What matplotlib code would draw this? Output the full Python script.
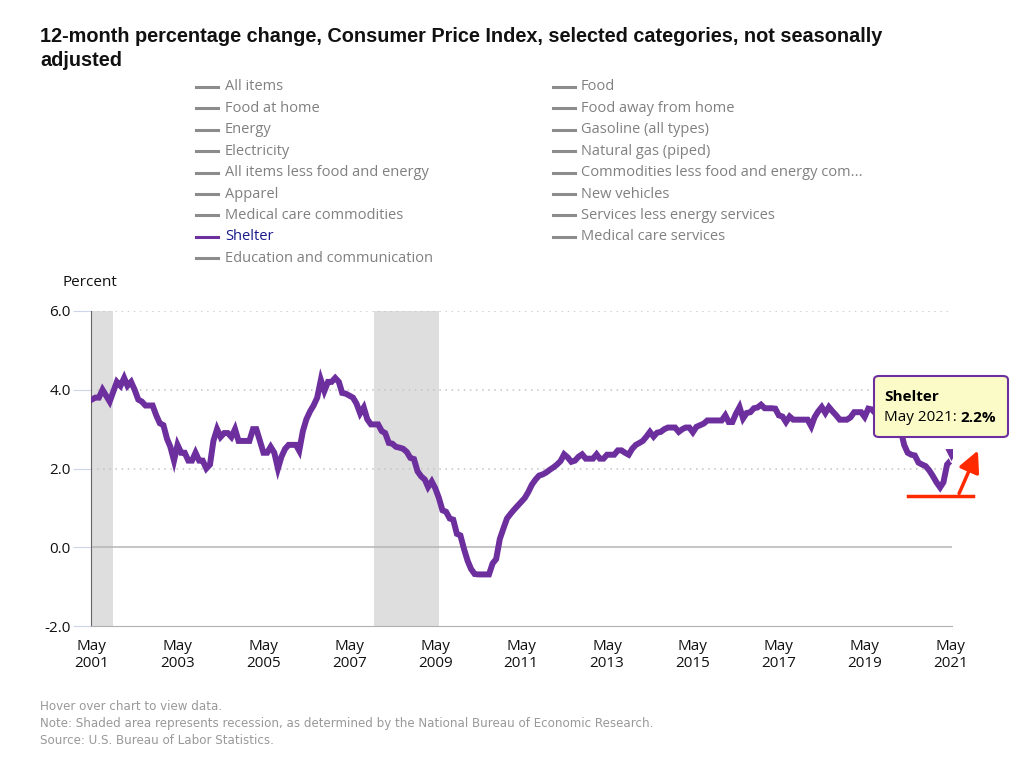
import matplotlib
matplotlib.use('Agg')
import matplotlib.pyplot as plt
import numpy as np
import pandas as pd
from matplotlib.lines import Line2D
from matplotlib.patches import FancyBboxPatch, FancyArrowPatch

# 12-month % change, shelter, May 2001 .. May 2021
shelter = [
    3.75, 3.8, 3.8, 4.0, 3.85, 3.7, 3.95, 4.2, 4.1, 4.3, 4.1, 4.2,
    4.0, 3.75, 3.7, 3.6, 3.6, 3.6, 3.35, 3.15, 3.1, 2.75, 2.55, 2.2,
    2.6, 2.4, 2.4, 2.2, 2.2, 2.4, 2.2, 2.2, 2.0, 2.1, 2.7, 3.0,
    2.8, 2.9, 2.9, 2.8, 3.0, 2.7, 2.7, 2.7, 2.7, 3.0, 3.0, 2.7,
    2.4, 2.4, 2.55, 2.4, 2.0, 2.3, 2.5, 2.6, 2.6, 2.6, 2.45, 2.95,
    3.25, 3.45, 3.6, 3.8, 4.25, 3.97, 4.2, 4.2, 4.3, 4.2, 3.92, 3.9,
    3.85, 3.8, 3.65, 3.4, 3.55, 3.25, 3.12, 3.12, 3.12, 2.95, 2.9, 2.65,
    2.63, 2.55, 2.53, 2.5, 2.42, 2.27, 2.24, 1.93, 1.8, 1.72, 1.53, 1.67,
    1.5, 1.25, 0.94, 0.9, 0.73, 0.7, 0.34, 0.3, -0.05, -0.35, -0.55, -0.68,
    -0.69, -0.69, -0.69, -0.69, -0.41, -0.3, 0.21, 0.47, 0.73, 0.85, 0.95, 1.05,
    1.15, 1.25, 1.4, 1.59, 1.72, 1.82, 1.85, 1.9, 1.97, 2.03, 2.1, 2.19,
    2.36, 2.28, 2.17, 2.2, 2.3, 2.36, 2.25, 2.25, 2.25, 2.36, 2.25, 2.25,
    2.35, 2.35, 2.35, 2.46, 2.46, 2.4, 2.35, 2.5, 2.6, 2.65, 2.7, 2.81,
    2.93, 2.81, 2.91, 2.93, 3.0, 3.04, 3.04, 3.04, 2.93, 3.0, 3.04, 3.04,
    2.92, 3.06, 3.1, 3.14, 3.22, 3.22, 3.22, 3.22, 3.22, 3.35, 3.18, 3.18,
    3.39, 3.56, 3.27, 3.41, 3.43, 3.53, 3.55, 3.62, 3.53, 3.53, 3.53, 3.52,
    3.35, 3.32, 3.18, 3.32, 3.24, 3.24, 3.24, 3.24, 3.24, 3.07, 3.3, 3.45,
    3.56, 3.41, 3.56, 3.45, 3.35, 3.24, 3.24, 3.24, 3.3, 3.43, 3.43, 3.43,
    3.31, 3.52, 3.5, 3.4, 3.45, 3.35, 3.3, 3.2, 3.3, 3.3, 3.0, 2.6,
    2.4, 2.35, 2.33, 2.15, 2.1, 2.06, 1.95, 1.81, 1.65, 1.52, 1.65, 2.1,
    2.2,
]
months = pd.date_range('2001-05-01', periods=len(shelter), freq='MS')

recessions = [('2001-03-01', '2001-11-01'), ('2007-12-01', '2009-06-01')]
yticks = [-2.0, 0.0, 2.0, 4.0, 6.0]
xtick_dates = pd.date_range('2001-05-01', '2021-05-01', freq='24MS')

legend_left = ['All items', 'Food at home', 'Energy', 'Electricity',
               'All items less food and energy', 'Apparel',
               'Medical care commodities', 'Shelter', 'Education and communication']
legend_right = ['Food', 'Food away from home', 'Gasoline (all types)',
                'Natural gas (piped)', 'Commodities less food and energy com...',
                'New vehicles', 'Services less energy services',
                'Medical care services']

footer = ['Hover over chart to view data.',
          'Note: Shaded area represents recession, as determined by the National Bureau of Economic Research.',
          'Source: U.S. Bureau of Labor Statistics.']

PURPLE = '#6d2f9e'
GREY_TXT = '#808080'
W, H = 1024, 766

def fx(px):
    return px / W

def fy(py):
    return 1 - py / H

fig = plt.figure(figsize=(10.24, 7.66), dpi=100)
fig.patch.set_facecolor('white')

fig.text(fx(40), fy(37), '12-month percentage change, Consumer Price Index, selected categories, not seasonally',
         fontsize=14.3, fontweight='bold', family='Liberation Sans', va='center', ha='left',
         color='#111111')
fig.text(fx(40), fy(60), 'adjusted',
         fontsize=14.3, fontweight='bold', family='Liberation Sans', va='center', ha='left',
         color='#111111')

# legend drawn by hand, two columns
row0, dy = 87, 21.4
for col, (names, hx, tx) in enumerate([(legend_left, 196, 225), (legend_right, 553, 581)]):
    for i, name in enumerate(names):
        yy = fy(row0 + i * dy)
        sel = name == 'Shelter'
        fig.add_artist(Line2D([fx(hx), fx(hx + 22)], [yy, yy], transform=fig.transFigure,
                              color=PURPLE if sel else '#8c8c8c', lw=2.2))
        fig.text(fx(tx), yy, name, fontsize=10.5, family='Open Sans', va='center',
                 color='#1a1a8a' if sel else GREY_TXT)

fig.text(fx(63), fy(283), 'Percent', fontsize=11, family='Open Sans', va='center', color='#111111')

ax = fig.add_axes([fx(91), fy(626), fx(952) - fx(91), fy(311) - fy(626)])
for a, b in recessions:
    ax.axvspan(pd.Timestamp(a), pd.Timestamp(b), color='#dedede', lw=0, zorder=0)
for v in yticks[2:]:
    ax.axhline(v, color='#c4c4c4', lw=1.1, ls=(0, (1, 3)), zorder=1)
ax.axhline(0, color='#b5b5b5', lw=1.1, zorder=1)

ax.plot(months, shelter, color=PURPLE, lw=4.3, solid_joinstyle='miter', zorder=3)
ax.plot(months[-1:], np.array(shelter[-1:]) + 0.15, 'v', color=PURPLE, ms=10,
        markeredgecolor='white', markeredgewidth=0.8, zorder=4)

ax.set_ylim(-2, 6)
ax.set_xlim(months[0] - pd.Timedelta(days=6), months[-1] + pd.Timedelta(days=12))
ax.set_yticks(yticks)
ax.set_yticklabels([f'{v:.1f}' for v in yticks], fontsize=11, family='Open Sans')
ax.set_xticks(xtick_dates)
ax.set_xticklabels([f'May\n{d.year}' for d in xtick_dates], fontsize=11, family='Open Sans',
                   linespacing=1.2)
ax.tick_params(axis='y', length=13, color='#ccd6eb', pad=1.5, labelcolor='#111111')
ax.tick_params(axis='x', length=0, pad=9, labelcolor='#111111')
for s in ['top', 'right']:
    ax.spines[s].set_visible(False)
ax.spines['left'].set_color('#666666')
ax.spines['bottom'].set_color('#b0b0b0')

# tooltip
box = FancyBboxPatch((fx(874), fy(437)), fx(1008) - fx(874), fy(376) - fy(437),
                     boxstyle='round,pad=0,rounding_size=0.005', transform=fig.transFigure,
                     facecolor='#fbfbc8', edgecolor=PURPLE, lw=1.5, zorder=10)
fig.add_artist(box)
fig.text(fx(884), fy(397), 'Shelter', fontsize=11, family='Open Sans', fontweight='bold',
         va='center', zorder=11)
t1 = fig.text(fx(884), fy(418), 'May 2021: ', fontsize=11, family='Open Sans',
              va='center', zorder=11)
fig.canvas.draw()
bb = t1.get_window_extent()
fig.text(bb.x1 / W, fy(418), f'{shelter[-1]:.1f}%', fontsize=11, family='Open Sans',
         fontweight='bold', va='center', zorder=11)

# red annotation
RED = '#ff2a00'
fig.add_artist(Line2D([fx(908), fx(973)], [fy(496), fy(496)], transform=fig.transFigure,
                      color=RED, lw=2.5))
fig.add_artist(FancyArrowPatch((fx(958), fy(496)), (fx(979), fy(448)), transform=fig.transFigure,
                               arrowstyle='-|>,head_length=0.8,head_width=0.4',
                               mutation_scale=16, lw=2.5, color=RED))

for i, line in enumerate(footer):
    fig.text(fx(40), fy(706 + i * 17.5), line, fontsize=8.6, family='DejaVu Sans',
             color='#999999', va='center')

fig.savefig('out.png', dpi=100)
